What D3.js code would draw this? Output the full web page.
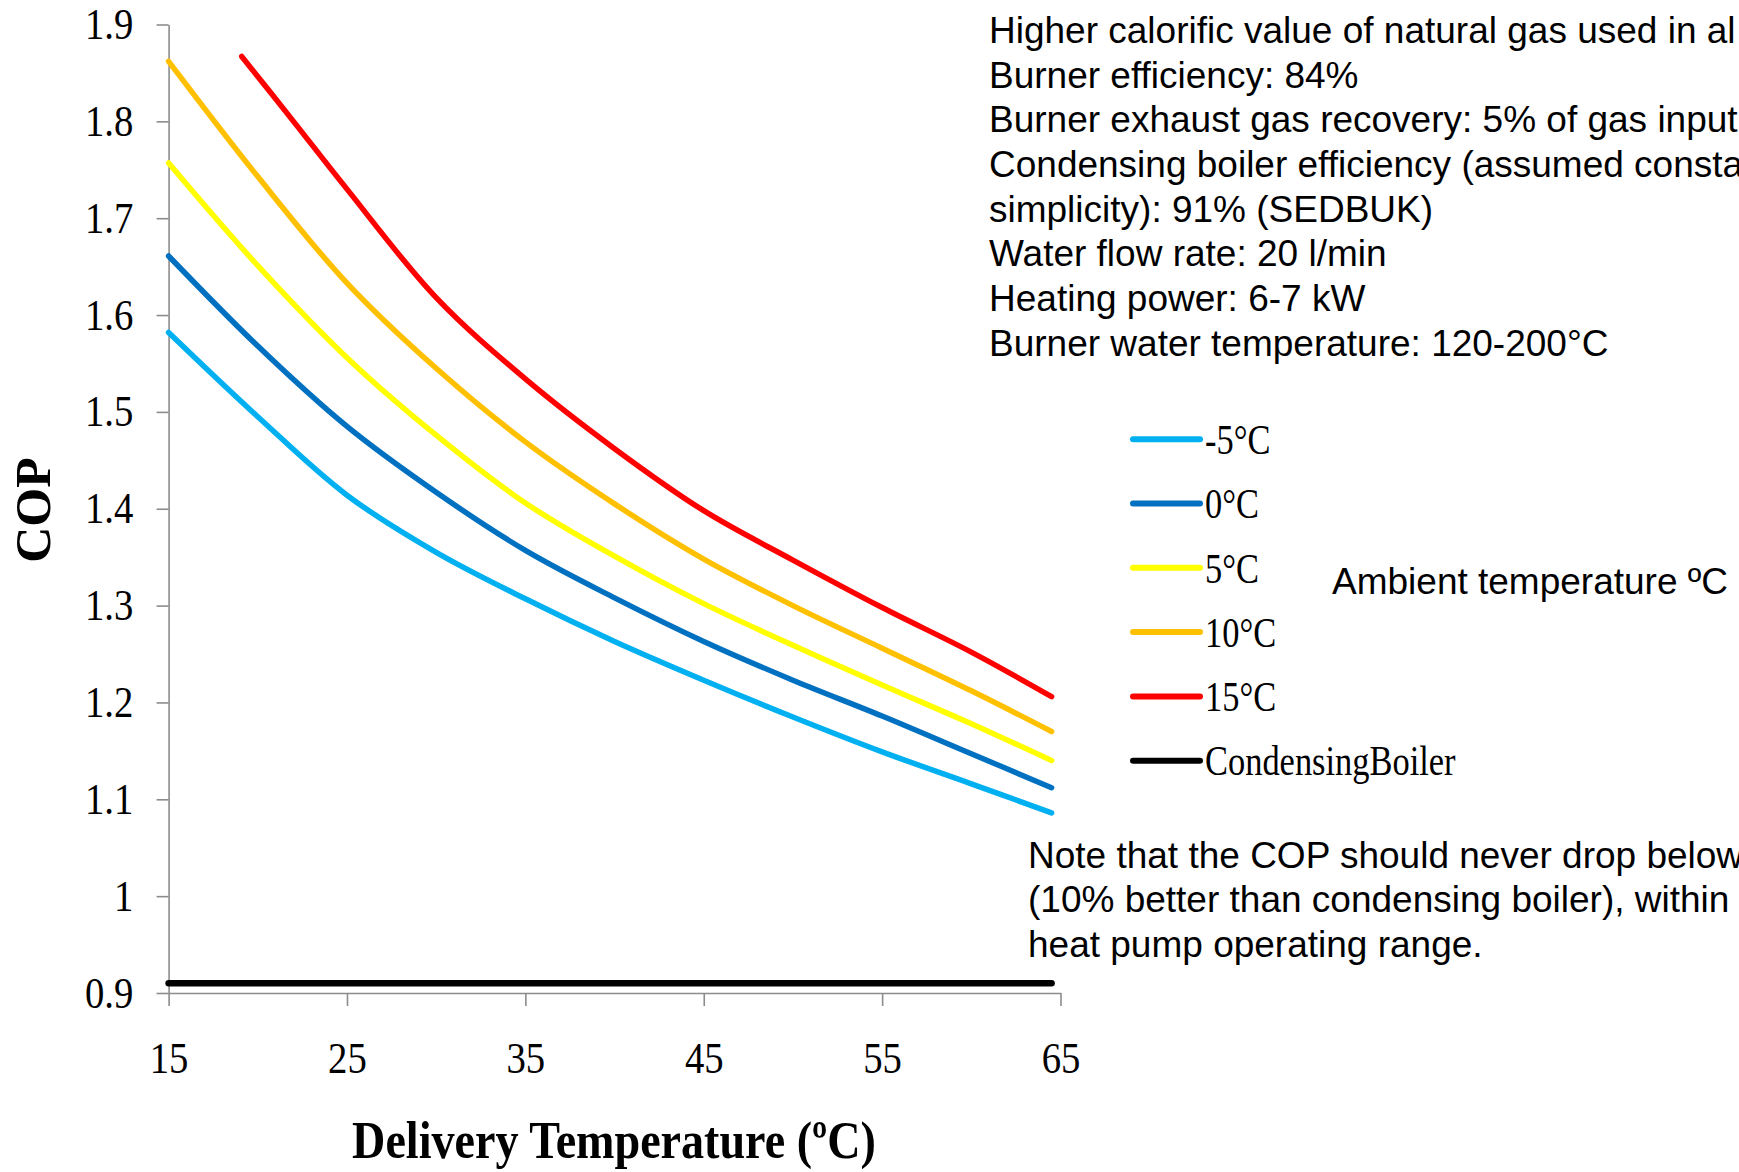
<!DOCTYPE html>
<html>
<head>
<meta charset="utf-8">
<script src="https://cdn.jsdelivr.net/npm/d3@7"></script>
<style>
  body { margin: 0; background: #fff; }
  svg { display: block; }
</style>
</head>
<body>
<div id="chart"></div>
<script>
// delivery temperatures (x) and COP readings per ambient temperature
var deliveryTemps = [15, 20, 25, 30, 35, 40, 45, 50, 55, 60, 64.5];
var redTemps = [19.1, 22, 25, 30, 35, 40, 45, 50, 55, 60, 64.5];

var copMinus5 = [1.582, 1.495, 1.414, 1.355, 1.307, 1.263, 1.223, 1.185, 1.149, 1.116, 1.086];
var copZero   = [1.661, 1.568, 1.485, 1.417, 1.357, 1.308, 1.263, 1.223, 1.186, 1.147, 1.112];
var copFive   = [1.757, 1.651, 1.556, 1.476, 1.406, 1.351, 1.302, 1.259, 1.218, 1.178, 1.140];
var copTen    = [1.862, 1.743, 1.633, 1.545, 1.469, 1.405, 1.348, 1.300, 1.256, 1.212, 1.170];
var copFifteen = [1.867, 1.800, 1.730, 1.618, 1.534, 1.462, 1.398, 1.347, 1.298, 1.252, 1.206];

var boilerTemps = [15, 64.5];
var boilerCop = [0.91, 0.91];

var legendLabels = ["-5°C", "0°C", "5°C", "10°C", "15°C", "CondensingBoiler"];
var seriesColors = ["#00b0f0", "#0070c0", "#ffff00", "#ffc000", "#ff0000", "#000000"];

var xTicks = [15, 25, 35, 45, 55, 65];
var yTicks = [0.9, 1, 1.1, 1.2, 1.3, 1.4, 1.5, 1.6, 1.7, 1.8, 1.9];

var infoLines = [
    "Higher calorific value of natural gas used in al",
    "Burner efficiency: 84%",
    "Burner exhaust gas recovery: 5% of gas input",
    "Condensing boiler efficiency (assumed consta",
    "simplicity): 91% (SEDBUK)",
    "Water flow rate: 20 l/min",
    "Heating power: 6-7 kW",
    "Burner water temperature: 120-200°C"
];
var noteLines = [
    "Note that the COP should never drop below",
    "(10% better than condensing boiler), within",
    "heat pump operating range."
];

// set the dimensions and margins of the graph
var margin = {top: 24.5, left: 168.6},
    width = 891.9,
    height = 968.5;

var x = d3.scaleLinear().domain([15, 65]).range([0, width]);
var y = d3.scaleLinear().domain([0.9, 1.9]).range([height, 0]);

var svg = d3.select("#chart").append("svg")
    .attr("width", 1739)
    .attr("height", 1172);

var g = svg.append("g")
    .attr("transform", "translate(" + margin.left + "," + margin.top + ")");

var axisColor = "#8c8c8c";

// y axis
var yAxis = g.append("g")
    .attr("class", "y axis")
    .call(d3.axisLeft(y).tickValues(yTicks).tickSize(12).tickSizeOuter(0)
        .tickFormat(function(d) { return String(d); }));
yAxis.selectAll("text")
    .attr("x", -40)
    .attr("transform", "scale(0.88,1)")
    .style("font-family", "'Liberation Serif', 'Times New Roman', serif")
    .style("font-size", "44px")
    .style("fill", "#000");

// x axis
var xAxis = g.append("g")
    .attr("class", "x axis")
    .attr("transform", "translate(0," + height + ")")
    .call(d3.axisBottom(x).tickValues(xTicks).tickSize(13).tickSizeOuter(0));
xAxis.selectAll("text")
    .attr("y", 80)
    .attr("dy", 0)
    .attr("transform", "scale(0.88,1)")
    .style("font-family", "'Liberation Serif', 'Times New Roman', serif")
    .style("font-size", "44px")
    .style("fill", "#000");

svg.selectAll(".axis path, .axis line")
    .attr("stroke", axisColor)
    .attr("stroke-width", 1.6);

// lines
var series = [
    {xs: deliveryTemps, ys: copMinus5},
    {xs: deliveryTemps, ys: copZero},
    {xs: deliveryTemps, ys: copFive},
    {xs: deliveryTemps, ys: copTen},
    {xs: redTemps, ys: copFifteen},
    {xs: boilerTemps, ys: boilerCop}
];

var line = d3.line()
    .x(function(d) { return x(d[0]); })
    .y(function(d) { return y(d[1]); })
    .curve(d3.curveCatmullRom.alpha(0.5));

g.selectAll(".series")
    .data(series)
    .enter().append("path")
    .attr("class", "series")
    .attr("d", function(s) { return line(d3.zip(s.xs, s.ys)); })
    .attr("fill", "none")
    .attr("stroke", function(s, i) { return seriesColors[i]; })
    .attr("stroke-width", function(s, i) { return i === 5 ? 6.5 : 5.5; })
    .attr("stroke-linecap", "round");

// axis titles
svg.append("text")
    .attr("transform", "translate(50,510) rotate(-90)")
    .attr("text-anchor", "middle")
    .style("font-family", "'Liberation Serif', 'Times New Roman', serif")
    .style("font-weight", "bold")
    .style("font-size", "50px")
    .text("COP");

svg.append("text")
    .attr("transform", "translate(614,1158) scale(0.87,1)")
    .attr("text-anchor", "middle")
    .style("font-family", "'Liberation Serif', 'Times New Roman', serif")
    .style("font-weight", "bold")
    .style("font-size", "53px")
    .text("Delivery Temperature (ºC)");

// legend
var legend = svg.selectAll(".legend")
    .data(legendLabels)
    .enter().append("g")
    .attr("class", "legend")
    .attr("transform", function(d, i) { return "translate(1133," + (439.2 + i * 64.3) + ")"; });

legend.append("line")
    .attr("x1", 0).attr("x2", 67)
    .attr("stroke", function(d, i) { return seriesColors[i]; })
    .attr("stroke-width", 6)
    .attr("stroke-linecap", "round");

legend.append("text")
    .attr("transform", "translate(72,0) scale(0.82,1)")
    .attr("dy", "0.35em")
    .style("font-family", "'Liberation Serif', 'Times New Roman', serif")
    .style("font-size", "42px")
    .text(function(d) { return d; });

var sans = "'Liberation Sans', Arial, sans-serif";

svg.append("text")
    .attr("x", 1332).attr("y", 581).attr("dy", "0.35em")
    .style("font-family", sans)
    .style("font-size", "37px")
    .text("Ambient temperature ºC");

svg.selectAll(".info")
    .data(infoLines)
    .enter().append("text")
    .attr("class", "info")
    .attr("x", 989)
    .attr("y", function(d, i) { return 30 + i * 44.7; })
    .attr("dy", "0.35em")
    .style("font-family", sans)
    .style("font-size", "37px")
    .text(function(d) { return d; });

svg.selectAll(".note")
    .data(noteLines)
    .enter().append("text")
    .attr("class", "note")
    .attr("x", 1028)
    .attr("y", function(d, i) { return 855 + i * 44.5; })
    .attr("dy", "0.35em")
    .style("font-family", sans)
    .style("font-size", "37px")
    .text(function(d) { return d; });
</script>
</body>
</html>
